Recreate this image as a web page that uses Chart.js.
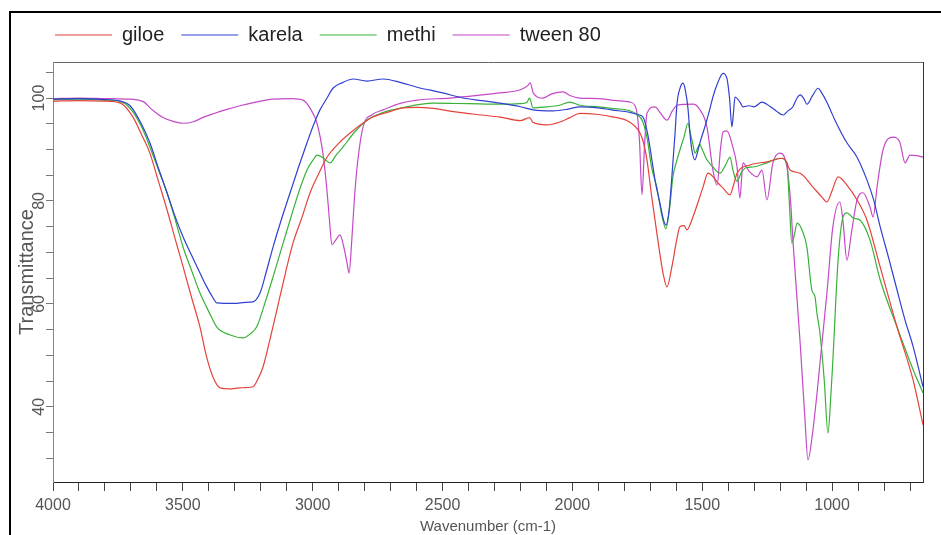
<!DOCTYPE html>
<html>
<head>
<meta charset="utf-8">
<script src="https://cdn.jsdelivr.net/npm/chart.js@4.4.0/dist/chart.umd.min.js"></script>
<style>
  html, body { margin: 0; padding: 0; background: #fff; }
  #wrap { position: relative; width: 941px; height: 535px; overflow: hidden; }
  #frame { position: absolute; left: 9px; top: 11px; width: 2000px; height: 2000px;
           border-left: 2px solid #000; border-top: 2px solid #000; pointer-events: none; }
</style>
</head>
<body>
<div id="wrap">
  <canvas id="ftir" width="941" height="535"></canvas>
  <div id="frame"></div>
</div>
<script>
// spectra (wavenumber cm-1, transmittance %)
const giloeWn = [4000,3900,3800,3740,3692,3660,3627,3595,3561,3530,3499,3465,3434,3410,3384,3357,3320,3280,3230,3210,3191,3165,3138,3105,3076,3040,3010,2975,2945,2900,2856,2810,2768,2700,2664,2600,2537,2450,2350,2279,2200,2165,2152,2100,2050,2010,1971,1900,1850,1778,1747,1730,1713,1695,1675,1651,1636,1617,1600,1586,1570,1559,1536,1497,1478,1460,1440,1420,1393,1380,1366,1316,1251,1189,1175,1162,1123,1074,1040,1020,1000,977,943,904,866,815,750,688,650];
const giloeT  = [99.4,99.5,99.4,99.0,96.3,93.0,89.3,84.0,78.3,72.7,67.2,61.0,55.5,50.0,45.8,43.7,43.5,43.7,43.9,45.5,47.8,53.0,58.8,66.0,71.8,77.0,81.6,85.5,88.5,91.2,93.2,95.0,96.3,97.4,98.0,98.2,98.0,97.3,96.7,96.3,95.6,96.2,95.3,94.8,95.3,96.2,97.0,96.8,96.4,95.3,93.8,92.0,88.0,81.0,73.8,66.0,63.3,67.2,72.0,75.0,75.2,74.4,76.9,82.7,85.4,84.8,83.5,82.5,81.2,83.0,85.4,87.0,87.6,88.3,87.5,86.0,85.4,82.7,80.8,79.8,82.0,84.7,83.1,80.2,76.3,67.2,55.5,45.2,36.5];

const karelaWn = [4000,3900,3800,3740,3703,3660,3627,3595,3561,3530,3499,3465,3434,3410,3384,3369,3300,3260,3230,3203,3180,3153,3120,3087,3055,3022,2995,2972,2945,2922,2885,2845,2791,2729,2660,2598,2500,2421,2350,2279,2200,2152,2075,2020,1971,1900,1850,1778,1750,1728,1710,1694,1680,1663,1650,1640,1628,1617,1605,1597,1585,1574,1565,1555,1548,1540,1528,1518,1509,1490,1470,1459,1440,1420,1405,1395,1386,1380,1374,1355,1343,1320,1300,1270,1240,1215,1189,1170,1151,1135,1123,1110,1097,1075,1054,1040,1020,1005,989,943,904,866,840,815,780,750,720,688,650];
const karelaT  = [99.8,99.9,99.7,99.4,98.5,95.0,91.3,86.5,81.6,77.0,73.0,69.3,66.0,63.5,61.2,60.2,60.1,60.3,60.4,62.1,66.0,71.0,76.5,81.6,86.5,91.3,95.0,97.7,100.0,101.9,103.0,103.7,103.3,103.7,103.0,102.1,101.0,100.0,99.5,99.0,98.3,97.7,97.5,97.8,98.3,98.1,97.7,97.2,96.8,96.3,93.0,88.0,83.5,79.6,76.5,75.3,78.0,84.7,93.0,99.0,102.0,102.9,101.5,98.0,93.5,89.9,88.0,89.5,91.3,94.4,98.0,100.2,103.0,104.8,103.8,100.0,94.4,97.0,100.2,99.2,98.3,98.5,98.3,99.2,98.4,97.5,96.7,97.5,98.3,100.0,100.6,100.0,98.8,100.5,101.9,101.0,99.2,97.5,95.7,91.3,88.5,84.1,80.2,75.0,68.5,62.7,57.0,51.7,43.9];

const methiWn = [4000,3900,3800,3740,3703,3660,3627,3595,3561,3530,3499,3465,3434,3400,3369,3320,3268,3240,3216,3185,3153,3120,3087,3055,3022,2998,2983,2960,2933,2910,2883,2840,2791,2730,2664,2537,2400,2279,2200,2175,2165,2152,2100,2050,2010,1971,1900,1850,1778,1750,1730,1713,1695,1675,1655,1640,1625,1613,1600,1586,1570,1555,1545,1536,1528,1510,1500,1482,1459,1432,1410,1393,1382,1366,1350,1330,1305,1251,1201,1174,1165,1155,1145,1135,1116,1097,1078,1066,1058,1047,1030,1016,1005,997,977,958,943,919,893,854,815,750,688,650];
const methiT  = [99.7,99.8,99.6,99.3,98.0,94.5,90.5,86.2,81.6,76.5,71.0,66.3,62.1,58.5,55.5,54.0,53.4,54.2,55.5,60.0,65.2,70.8,76.3,81.5,86.0,88.0,88.9,88.4,87.4,88.9,90.5,93.3,95.7,97.2,98.0,99.0,98.9,98.8,98.9,99.2,100.0,98.1,98.3,98.6,99.2,98.6,98.3,98.0,97.5,96.8,95.5,92.4,86.5,82.7,77.0,74.6,79.0,84.7,87.5,89.9,92.5,95.1,93.0,91.0,89.3,91.0,90.0,88.0,86.6,85.4,87.0,88.5,86.0,83.8,85.5,86.5,86.6,87.4,88.3,87.4,80.0,71.8,73.5,75.7,74.4,71.0,62.7,61.4,58.0,54.4,45.0,34.9,42.0,49.1,68.5,76.9,77.7,76.7,76.3,72.4,64.7,55.5,47.2,42.7];

const tweenWn = [4000,3900,3800,3720,3653,3620,3580,3540,3499,3460,3420,3380,3330,3280,3220,3153,3080,3037,3010,2983,2960,2945,2935,2926,2910,2895,2880,2868,2860,2850,2840,2829,2806,2770,2729,2660,2598,2471,2350,2279,2200,2170,2163,2150,2113,2080,2036,2010,1971,1900,1830,1778,1755,1742,1732,1722,1713,1682,1660,1636,1615,1597,1536,1510,1482,1459,1443,1430,1420,1405,1385,1366,1355,1343,1320,1289,1270,1251,1228,1201,1174,1160,1151,1123,1105,1093,1075,1058,1020,997,970,958,943,925,904,881,854,842,827,804,766,740,719,700,675,650];
const tweenT  = [99.9,100.0,99.9,99.8,99.3,97.8,96.3,95.5,95.1,95.4,96.3,97.0,97.8,98.5,99.2,99.8,99.9,99.6,98.0,95.0,89.0,82.0,76.0,71.5,72.5,73.4,71.0,68.0,66.0,72.0,80.0,86.6,94.4,96.8,97.7,99.0,99.6,100.0,100.6,101.0,101.6,102.5,103.0,100.9,100.0,100.8,101.2,100.5,100.0,99.9,99.5,99.2,98.0,92.0,81.2,91.0,97.0,98.3,97.0,95.7,97.5,98.6,98.8,97.8,94.4,86.0,83.1,90.0,93.4,93.6,91.0,86.6,80.6,87.4,85.8,84.7,86.0,80.2,87.4,89.3,86.6,80.0,72.4,52.4,38.0,29.7,35.0,42.7,62.1,75.0,79.8,76.0,68.5,74.0,80.2,81.6,78.8,76.9,82.7,89.9,92.4,91.5,87.4,88.9,88.8,88.5];

const seriesNames  = ['giloe', 'karela', 'methi', 'tween 80'];
const seriesColors = ['#e5423c', '#3040cf', '#38b238', '#c449c8'];
const seriesWn = [giloeWn, karelaWn, methiWn, tweenWn];
const seriesT  = [giloeT, karelaT, methiT, tweenT];

const font = "'Liberation Sans', Arial, sans-serif";

const datasets = seriesNames.map((name, k) => ({
    label: name,
    data: seriesWn[k].map((w, i) => ({ x: w, y: seriesT[k][i] })),
    borderColor: seriesColors[k],
    backgroundColor: seriesColors[k],
    borderWidth: 1.2,
    pointRadius: 0,
    cubicInterpolationMode: 'monotone',
    xAxisID: 'x',
    yAxisID: 'y'
}));

// legend sits over the plot, not flush with the canvas edge
const legendNudge = {
    id: 'legendNudge',
    afterLayout(chart) {
        chart.legend.left += 38;
        chart.legend.right += 38;
    }
};

const ctx = document.getElementById('ftir').getContext('2d');

new Chart(ctx, {
    type: 'line',
    data: { datasets: datasets },
    plugins: [legendNudge],
    options: {
        responsive: false,
        animation: false,
        layout: { padding: { left: 0, right: 18, top: 8, bottom: 0 } },
        plugins: {
            tooltip: { enabled: false },
            legend: {
                position: 'top',
                align: 'start',
                labels: {
                    usePointStyle: true,
                    pointStyle: 'line',
                    pointStyleWidth: 57,
                    padding: 17,
                    color: '#222',
                    font: { family: font, size: 20 }
                }
            }
        },
        scales: {
            x: {
                type: 'linear',
                position: 'bottom',
                reverse: true,
                min: 650,
                max: 4000,
                afterFit: function(s) { s.height = 53; },
                ticks: {
                    stepSize: 100,
                    autoSkip: false,
                    maxRotation: 0,
                    includeBounds: false,
                    padding: 5,
                    color: '#555',
                    font: { family: font, size: 16 },
                    callback: v => (v % 500 === 0 ? String(v) : '')
                },
                grid: { drawOnChartArea: false, tickLength: 9, color: '#444' },
                border: { color: '#222' },
                title: {
                    display: true,
                    text: 'Wavenumber (cm-1)',
                    color: '#555',
                    font: { family: font, size: 15 },
                    padding: { top: 0, bottom: -1 }
                }
            },
            xTop: {
                type: 'linear',
                position: 'top',
                reverse: true,
                min: 650,
                max: 4000,
                afterFit: function(s) { s.height = 7; },
                ticks: { display: false },
                grid: { drawOnChartArea: false, drawTicks: false },
                border: { color: '#666' }
            },
            y: {
                type: 'linear',
                position: 'left',
                min: 25.4,
                max: 107,
                afterFit: function(s) { s.width = 53; },
                ticks: {
                    stepSize: 5,
                    autoSkip: false,
                    includeBounds: false,
                    minRotation: 90,
                    maxRotation: 90,
                    crossAlign: 'center',
                    padding: -7,
                    color: '#555',
                    font: { family: font, size: 16 },
                    callback: v => (v % 20 === 0 ? String(v) : '')
                },
                grid: { drawOnChartArea: false, tickLength: 7, color: '#777' },
                border: { color: '#888' },
                title: {
                    display: true,
                    text: 'Transmittance',
                    color: '#555',
                    font: { family: font, size: 20 },
                    padding: { top: 15, bottom: 0 }
                }
            },
            yRight: {
                type: 'linear',
                position: 'right',
                min: 25.4,
                max: 107,
                afterFit: function(s) { s.width = 0; },
                ticks: { display: false },
                grid: { drawOnChartArea: false, drawTicks: false },
                border: { color: '#333' }
            }
        }
    }
});
</script>
</body>
</html>
